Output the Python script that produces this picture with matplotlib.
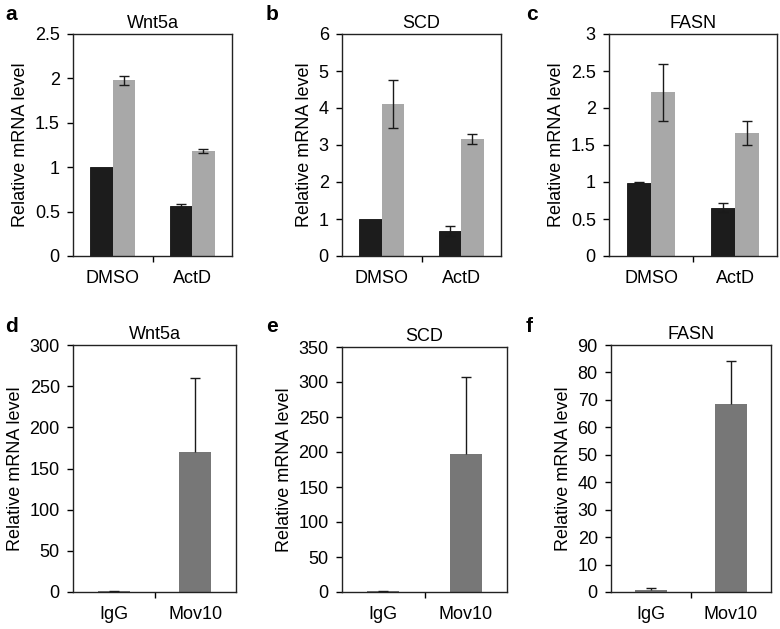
import numpy as np
import matplotlib.pyplot as plt

plt.rcParams['font.family'] = ['Liberation Sans', 'DejaVu Sans']

# top row: DMSO / ActD, two bars each
groups_top = ['DMSO', 'ActD']
titles_top = ['Wnt5a', 'SCD', 'FASN']
black_vals = [[1.0, 0.56], [1.0, 0.68], [0.99, 0.65]]
black_errs = [[0.0, 0.02], [0.0, 0.14], [0.01, 0.06]]
gray_vals = [[1.98, 1.18], [4.12, 3.17], [2.21, 1.66]]
gray_errs = [[0.05, 0.02], [0.65, 0.13], [0.39, 0.16]]
ylims_top = [2.5, 6, 3]
yticks_top = [[0, 0.5, 1, 1.5, 2, 2.5], [0, 1, 2, 3, 4, 5, 6], [0, 0.5, 1, 1.5, 2, 2.5, 3]]

# bottom row: IgG / Mov10 (upper error bars only)
groups_bot = ['IgG', 'Mov10']
titles_bot = ['Wnt5a', 'SCD', 'FASN']
bot_vals = [[1.0, 170], [1.0, 197], [0.8, 68.5]]
bot_errs = [[0.8, 90], [0.8, 110], [0.7, 15.7]]
ylims_bot = [300, 350, 90]
ysteps_bot = [50, 50, 10]

W, H = 780, 629
fig = plt.figure(figsize=(7.8, 6.29), dpi=100)
FS = 13

def px_axes(l, t, r, b):
    return fig.add_axes([l / W, 1 - b / H, (r - l) / W, (b - t) / H])

top_boxes = [(73, 34, 232, 256), (342, 34, 501, 256), (609, 34, 777, 256)]
bot_boxes = [(73, 345, 236, 592), (342, 347, 507, 592), (611, 345, 771, 592)]
letter_x = [5, 266, 526]

def style(ax, groups):
    ax.set_xlim(-0.5, 1.5)
    ax.set_xticks([0, 1])
    ax.set_xticklabels(groups, fontsize=FS)
    ax.tick_params(axis='x', which='major', length=0, pad=10)
    ax.set_xticks([0.5], minor=True)
    ax.tick_params(axis='x', which='minor', direction='out', length=4.5, width=1)
    ax.tick_params(axis='y', direction='out', length=4.5, width=1, labelsize=FS, pad=5)
    for s in ax.spines.values():
        s.set_linewidth(1)
        s.set_color('#222222')
    ax.set_ylabel('Relative mRNA level', fontsize=FS, labelpad=4)

def err(ax, xs, vals, errs, upper_only=False):
    for xi, v, e in zip(xs, vals, errs):
        if e <= 0:
            continue
        lo = 0 if upper_only else e
        _, caps, _ = ax.errorbar(xi, v, yerr=[[lo], [e]], fmt='none', ecolor='#1a1a1a',
                                 elinewidth=1, capsize=3.5, capthick=1)
        if upper_only:
            caps[0].set_visible(False)

x = np.arange(2)
bw = 0.28
for i in range(3):
    ax = px_axes(*top_boxes[i])
    ax.bar(x - bw / 2, black_vals[i], bw, color='#1c1c1c', edgecolor='#111111', linewidth=0.6)
    ax.bar(x + bw / 2, gray_vals[i], bw, color='#a8a8a8')
    err(ax, x - bw / 2, black_vals[i], black_errs[i])
    err(ax, x + bw / 2, gray_vals[i], gray_errs[i])
    ax.set_ylim(0, ylims_top[i])
    ax.set_yticks(yticks_top[i])
    ax.set_yticklabels([f'{v:g}' for v in yticks_top[i]])
    style(ax, groups_top)
    ax.set_title(titles_top[i], fontsize=FS, pad=4.5)
    fig.text(letter_x[i] / W, 1 - 15 / H, 'abc'[i], fontsize=15,
             fontweight='bold', va='center', ha='left')

bw2 = 0.39
for i in range(3):
    ax = px_axes(*bot_boxes[i])
    ax.bar(x, bot_vals[i], bw2, color='#777777')
    err(ax, x, bot_vals[i], bot_errs[i], upper_only=True)
    ax.set_ylim(0, ylims_bot[i])
    ax.set_yticks(np.arange(0, ylims_bot[i] + 1, ysteps_bot[i]))
    style(ax, groups_bot)
    ax.set_title(titles_bot[i], fontsize=FS, pad=4.5)
    fig.text(letter_x[i] / W, 1 - 326 / H, 'def'[i], fontsize=15,
             fontweight='bold', va='center', ha='left')

fig.savefig('out.png', dpi=100)
